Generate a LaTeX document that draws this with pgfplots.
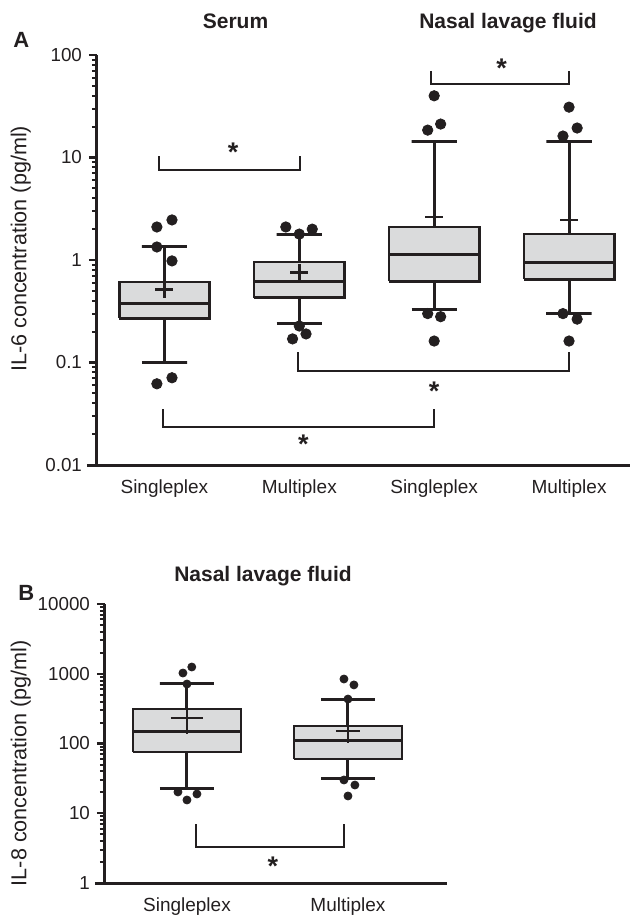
\documentclass[border=0pt]{standalone}
\usepackage{fontspec}
\setmainfont{Liberation Sans}
\usepackage{pgfplots}
\pgfplotsset{compat=1.18}
\definecolor{ink}{HTML}{231F20}
\definecolor{boxgray}{HTML}{DADBDC}

\pgfplotsset{
  every axis/.append style={
    scale only axis, clip=false,
    axis x line=bottom, axis y line=left,
    axis line style={-, line width=1.5pt, ink},
    x axis line style={shorten <=-5pt},
    xtick style={draw=none},
    tick align=outside,
    major tick length=4pt, minor tick length=2.5pt,
    ytick style={line width=1.1pt, ink},
    minor y tick style={line width=1pt},
    tick label style={font=\fontsize{9.4}{11}\selectfont, text=ink},
    xticklabel style={font=\fontsize{9.5}{11}\selectfont},
    ylabel style={font=\fontsize{10.8}{12}\selectfont, anchor=center, text=ink},
  },
  ilwhisk/.style={ink, line width=1.5pt, line join=bevel},
  ilbox/.style={draw=ink, fill=boxgray, line width=1.35pt},
  ilmed/.style={ink, line width=1.5pt},
  ilout/.style={only marks, mark=*, mark size=2.6pt, ink, mark options={fill=ink}},
  ilavg/.style={only marks, mark=+, mark size=4.5pt, ink, mark options={line width=1.4pt}},
  ilbrk/.style={ink, line width=1pt},
}
\tikzset{
  ilstar/.style={font=\bfseries\fontsize{13.5}{13.5}\selectfont, text=ink, yshift=-2.8pt},
  ilttl/.style={font=\bfseries\fontsize{10.5}{12}\selectfont, text=ink, anchor=base},
  illet/.style={font=\bfseries\fontsize{11}{12}\selectfont, text=ink, anchor=base west, inner sep=0pt},
}

\begin{document}
\begin{tikzpicture}
\useasboundingbox (0,0) rectangle (317pt,-459pt);

% panel A: IL-6
\begin{axis}[
    ymode=log,
    /pgf/number format/assume math mode=true,
    at={(48.5pt,-232.5pt)}, anchor=south west,
    width=266.5pt, height=205pt,
    xmin=0.5, xmax=4.452, ymin=0.01, ymax=100,
    xtick={1,2,3,4}, xticklabels={Singleplex,Multiplex,Singleplex,Multiplex},
    ytick={0.01,0.1,1,10,100}, yticklabels={0.01,0.1,1,10,100},
    minor ytick={0.02,0.03,0.04,0.05,0.06,0.07,0.08,0.09,
                 0.2,0.3,0.4,0.5,0.6,0.7,0.8,0.9,
                 2,3,4,5,6,7,8,9,20,30,40,50,60,70,80,90},
    ylabel={IL-6 concentration (pg/ml)},
    ylabel style={at={(axis description cs:-0.143,0.527)}},
]
% serum singleplex: lw 0.099, q1 0.27, med 0.38, q3 0.61, uw 1.34
\addplot[ilwhisk] coordinates {(0.8325,0.099) (1.1675,0.099) (1,0.099) (1,1.34) (0.8325,1.34) (1.1675,1.34)};
\addplot[ilbox] coordinates {(0.665,0.27) (1.335,0.27) (1.335,0.61) (0.665,0.61) (0.665,0.27)};
\addplot[ilmed] coordinates {(0.665,0.38) (1.335,0.38)};
% serum multiplex: lw 0.238, q1 0.43, med 0.62, q3 0.955, uw 1.79
\addplot[ilwhisk] coordinates {(1.8325,0.238) (2.1675,0.238) (2,0.238) (2,1.79) (1.8325,1.79) (2.1675,1.79)};
\addplot[ilbox] coordinates {(1.665,0.43) (2.335,0.43) (2.335,0.955) (1.665,0.955) (1.665,0.43)};
\addplot[ilmed] coordinates {(1.665,0.62) (2.335,0.62)};
% NLF singleplex: lw 0.33, q1 0.62, med 1.12, q3 2.1, uw 14.2
\addplot[ilwhisk] coordinates {(2.8325,0.33) (3.1675,0.33) (3,0.33) (3,14.2) (2.8325,14.2) (3.1675,14.2)};
\addplot[ilbox] coordinates {(2.665,0.62) (3.335,0.62) (3.335,2.1) (2.665,2.1) (2.665,0.62)};
\addplot[ilmed] coordinates {(2.665,1.12) (3.335,1.12)};
% NLF multiplex: lw 0.30, q1 0.65, med 0.955, q3 1.79, uw 14.2
\addplot[ilwhisk] coordinates {(3.8325,0.30) (4.1675,0.30) (4,0.30) (4,14.2) (3.8325,14.2) (4.1675,14.2)};
\addplot[ilbox] coordinates {(3.665,0.65) (4.335,0.65) (4.335,1.79) (3.665,1.79) (3.665,0.65)};
\addplot[ilmed] coordinates {(3.665,0.955) (4.335,0.955)};
% means
\addplot[ilavg] coordinates {(1,0.52) (2,0.75) (3,2.63) (4,2.46)};
% outliers
\addplot[ilout] coordinates {
  (0.944,2.1) (1.056,2.46) (0.944,1.34) (1.056,0.98) (0.944,0.062) (1.056,0.071)
  (1.90,2.1) (2.0,1.79) (2.096,2.0) (2.0,0.227) (1.95,0.17) (2.05,0.19)
  (3.0,40) (2.952,18.5) (3.048,21.2) (2.952,0.30) (3.048,0.28) (3.0,0.162)
  (4.0,31) (4.06,19.4) (3.955,16.2) (3.955,0.30) (4.06,0.265) (4.0,0.162)
};
% significance brackets
\addplot[ilbrk] coordinates {(0.96,10.3) (0.96,7.55) (2.007,7.55) (2.007,10.3)};
\addplot[ilbrk] coordinates {(2.98,70) (2.98,52) (4.0,52) (4.0,70)};
\addplot[ilbrk] coordinates {(1.99,0.126) (1.99,0.083) (4.0,0.083) (4.0,0.126)};
\addplot[ilbrk] coordinates {(0.99,0.035) (0.99,0.0235) (3.0,0.0235) (3.0,0.035)};
\node[ilstar] at (axis cs:1.51,12.7) {*};
\node[ilstar] at (axis cs:3.5,85) {*};
\node[ilstar] at (axis cs:3.0,0.06) {*};
\node[ilstar] at (axis cs:2.03,0.018) {*};
\end{axis}

% panel B: IL-8
\begin{axis}[
    ymode=log,
    /pgf/number format/assume math mode=true,
    at={(52.5pt,-441.5pt)}, anchor=south west,
    width=171pt, height=139.5pt,
    xmin=0.491, xmax=2.615, ymin=1, ymax=10000,
    xtick={1,2}, xticklabels={Singleplex,Multiplex},
    ytick={1,10,100,1000,10000}, yticklabels={1,10,100,1000,10000},
    minor ytick={2,3,4,5,6,7,8,9,20,30,40,50,60,70,80,90,
                 200,300,400,500,600,700,800,900,2000,3000,4000,5000,6000,7000,8000,9000},
    ylabel={IL-8 concentration (pg/ml)},
    ylabel style={at={(axis description cs:-0.246,0.43)}},
]
% singleplex: lw 22.3, q1 75.5, med 151, q3 312, uw 737
\addplot[ilwhisk] coordinates {(0.8325,22.3) (1.1675,22.3) (1,22.3) (1,737) (0.8325,737) (1.1675,737)};
\addplot[ilbox] coordinates {(0.665,75.5) (1.335,75.5) (1.335,312) (0.665,312) (0.665,75.5)};
\addplot[ilmed] coordinates {(0.665,151) (1.335,151)};
% multiplex: lw 31, q1 60, med 112, q3 178, uw 421
\addplot[ilwhisk] coordinates {(1.8325,31) (2.1675,31) (2,31) (2,421) (1.8325,421) (2.1675,421)};
\addplot[ilbox] coordinates {(1.665,60) (2.335,60) (2.335,178) (1.665,178) (1.665,60)};
\addplot[ilmed] coordinates {(1.665,112) (2.335,112)};
% means
\addplot[ilavg, mark size=8pt] coordinates {(1,232)};
\addplot[ilavg, mark size=6pt] coordinates {(2,151)};
\addplot[ilout, mark size=2pt] coordinates {
  (0.975,1025) (1.03,1250) (1.0,713) (0.944,20.2) (1.0,15.5) (1.062,18.9)
  (1.975,841) (2.037,692) (2.0,434) (1.975,30) (2.043,25.4) (2.0,17.7)
};
\addplot[ilbrk] coordinates {(1.056,7.0) (1.056,3.28) (1.975,3.28) (1.975,7.0)};
\node[ilstar] at (axis cs:1.534,2.07) {*};
\end{axis}

% panel letters and titles
\node[illet] at (6.5pt,-23.5pt) {A};
\node[illet] at (9pt,-300pt) {B};
\node[ilttl] at (117.75pt,-14pt) {Serum};
\node[ilttl] at (254pt,-14pt) {Nasal lavage fluid};
\node[ilttl] at (131.5pt,-290.5pt) {Nasal lavage fluid};
\end{tikzpicture}
\end{document}
